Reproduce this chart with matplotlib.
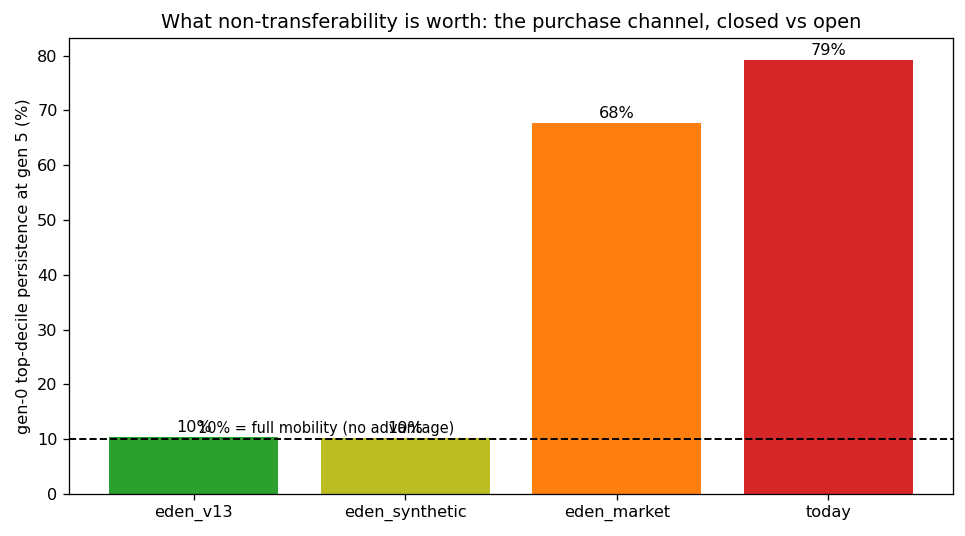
import numpy as np
import matplotlib.pyplot as plt

scenarios = ['eden_v13', 'eden_synthetic', 'eden_market', 'today']
persistence = [10.35, 10.2, 67.75, 79.25]  # % of gen-0 top decile still there at gen 5
bar_colors = ['tab:green', 'tab:olive', 'tab:orange', 'tab:red']
baseline = 10.0

DPI = 116


def plot_persistence():
    fig, ax = plt.subplots(1, 1, figsize=(965 / DPI, 536 / DPI), dpi=DPI)
    x = np.arange(len(scenarios))
    bars = ax.bar(x, persistence, color=bar_colors)
    for b, v in zip(bars, persistence):
        ax.text(b.get_x() + b.get_width() / 2, v + 0.4, f'{v:.0f}%',
                ha='center', va='bottom', fontsize=10)

    ax.axhline(baseline, color='black', ls='--', lw=1.2)
    ax.text(0.02, baseline + 0.5, '10% = full mobility (no advantage)',
            fontsize=9, va='bottom')

    ax.set_xticks(x)
    ax.set_xticklabels(scenarios)
    ax.set_ylabel('gen-0 top-decile persistence at gen 5 (%)')
    ax.set_title('What non-transferability is worth: the purchase channel, closed vs open')
    fig.subplots_adjust(left=0.0715, right=0.9876, top=0.929, bottom=0.0784)
    fig.savefig('out.png', dpi=DPI)


if __name__ == '__main__':
    plot_persistence()
